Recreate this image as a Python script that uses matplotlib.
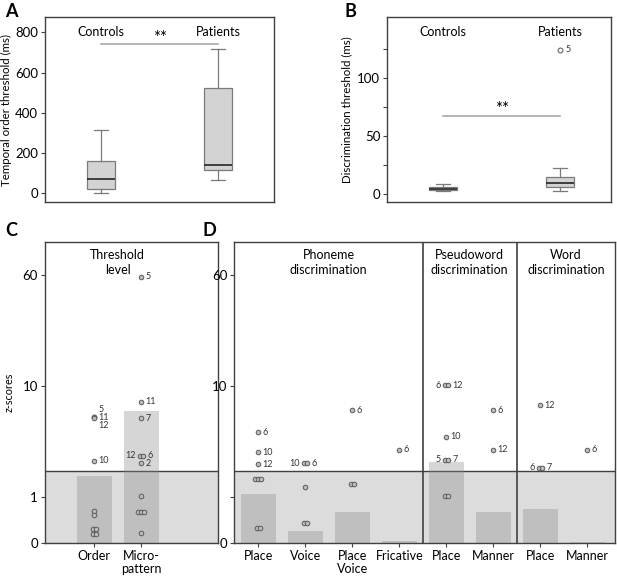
import numpy as np
import matplotlib
matplotlib.use("Agg")
import matplotlib.pyplot as plt

plt.rcParams['font.family'] = ['Lato', 'DejaVu Sans']

# ---------------- data ----------------
groups = ['Controls', 'Patients']
# Panel A: temporal order threshold (ms)
a_low = [0, 65]
a_q1 = [23, 114]
a_med = [70, 139]
a_q3 = [159, 525]
a_high = [315, 716]
# Panel B: discrimination threshold (ms)
b_low = [2.3, 2.3]
b_q1 = [3.0, 6.3]
b_med = [4.5, 9.2]
b_q3 = [6.3, 15.0]
b_high = [8.4, 22.2]
b_outlier_val = 124.5
b_outlier_lab = '5'

# Panel C: threshold level z-scores
c_cats = ['Order', 'Micro-\npattern']
c_means = [1.8, 6.55]
c_order_vals = [5.9, 5.85, 5.8, 2.5, 0.63, 0.52, 0.23, 0.23, 0.14, 0.14]
c_order_labs = ['5', '11', '12', '10', '', '', '', '', '', '']
c_micro_vals = [57.8, 7.7, 5.75, 2.8, 2.8, 2.38, 1.06, 0.61, 0.61, 0.61, 0.156]
c_micro_labs = ['5', '11', '7', '12', '6', '2', '', '', '', '', '']

# Panel D
d_cats = ['Place', 'Voice', 'Place\nVoice', 'Fricative', 'Place', 'Manner', 'Place', 'Manner']
d_means = [1.12, 0.19, 0.60, 0.02, 2.44, 0.60, 0.67, 0.01]
d_place_vals = [4.45, 3.0, 2.33, 1.65, 1.65, 1.65, 0.25, 0.25]
d_place_labs = ['6', '10', '12', '', '', '', '', '']
d_voice_vals = [2.38, 2.38, 1.36, 0.35, 0.35]
d_voice_labs = ['10', '6', '', '', '']
d_pv_vals = [6.6, 1.45, 1.45]
d_pv_labs = ['6', '', '']
d_fric_vals = [3.15]
d_fric_labs = ['6']
d_pwplace_vals = [10.2, 10.2, 4.07, 2.56, 2.56, 1.05, 1.05]
d_pwplace_labs = ['6', '12', '10', '5', '7', '', '']
d_pwmanner_vals = [6.6, 3.17]
d_pwmanner_labs = ['6', '12']
d_wplace_vals = [7.24, 2.16, 2.16]
d_wplace_labs = ['12', '6', '7']
d_wmanner_vals = [3.17]
d_wmanner_labs = ['6']
d_sections = ['Phoneme\ndiscrimination', 'Pseudoword\ndiscrimination', 'Word\ndiscrimination']

threshold = 2.0

# ---------------- styling ----------------
SPINE = '#404040'
BOXFACE = '#d3d3d3'
BOXEDGE = '#7a7a7a'
SIG = '#a8a8a8'

fig = plt.figure(figsize=(6.17, 5.77), dpi=100)

def style_spines(ax):
    for s in ax.spines.values():
        s.set_color(SPINE)
        s.set_linewidth(1.0)

def box_panel(ax, lows, q1s, meds, q3s, highs):
    stats = []
    for i in range(len(groups)):
        stats.append(dict(whislo=lows[i], q1=q1s[i], med=meds[i], q3=q3s[i],
                          whishi=highs[i], fliers=[], label=groups[i]))
    ax.bxp(stats, positions=[1, 2], widths=0.24, capwidths=0.12, patch_artist=True,
           showfliers=False,
           boxprops=dict(facecolor=BOXFACE, edgecolor=BOXEDGE, linewidth=0.9),
           whiskerprops=dict(color=BOXEDGE, linewidth=0.9),
           capprops=dict(color=BOXEDGE, linewidth=0.9),
           medianprops=dict(color='#333333', linewidth=1.3))
    ax.set_xticks([])
    style_spines(ax)
    ax.tick_params(axis='y', labelsize=9.5, length=3, color=SPINE, pad=2)

# Panel A
axA = fig.add_axes([45/617, 1-202.3/577, 229/617, 185/577])
box_panel(axA, a_low, a_q1, a_med, a_q3, a_high)
axA.set_xlim(0.52, 2.476)
axA.set_ylim(-44.7, 874.6)
axA.set_yticks([0, 200, 400, 600, 800])
axA.set_ylabel('Temporal order threshold (ms)', fontsize=8.3, labelpad=2)
for i, g in enumerate(groups):
    axA.text(i + 1, 800, g, ha='center', va='center', fontsize=9)
axA.plot([1, 2], [740, 740], color=SIG, lw=1.2)
axA.text(1.5, 770, '**', ha='center', va='center', fontsize=12)

# Panel B
axB = fig.add_axes([387.3/617, 1-202.3/577, 224/617, 185/577])
box_panel(axB, b_low, b_q1, b_med, b_q3, b_high)
axB.set_xlim(0.52, 2.44)
axB.set_ylim(-7.2, 152.7)
axB.set_yticks([0, 25, 50, 75, 100, 125])
axB.set_yticklabels(['0', '', '50', '', '100', ''])
axB.set_ylabel('Discrimination threshold (ms)', fontsize=8.3, labelpad=4)
for i, g in enumerate(groups):
    axB.text(i + 1, 139.7, g, ha='center', va='center', fontsize=9)
axB.plot([1, 2], [67.4, 67.4], color=SIG, lw=1.2)
axB.text(1.5, 73.5, '**', ha='center', va='center', fontsize=12)
axB.plot([2], [b_outlier_val], marker='o', ms=3.5, mfc='white', mec='#555555', mew=0.7, ls='none')
axB.annotate(b_outlier_lab, (2, b_outlier_val), xytext=(4, 0), textcoords='offset points',
             fontsize=6.5, va='center', ha='left', color='#333333')

# z-score panels
fwd = lambda y: np.log10(1 + np.clip(y, 0, None))
inv = lambda y: 10 ** y - 1

def z_axes(rect):
    ax = fig.add_axes(rect)
    ax.set_yscale('function', functions=(fwd, inv))
    ax.set_ylim(0, 100)
    ax.axhspan(0, threshold, color='#dcdcdc', zorder=0, lw=0)
    ax.axhline(threshold, color=SPINE, lw=1.0, zorder=1)
    style_spines(ax)
    ax.set_yticks([0, 1, 10, 60])
    ax.yaxis.set_minor_locator(matplotlib.ticker.NullLocator())
    ax.tick_params(axis='y', labelsize=9.5, length=3, color=SPINE, pad=2)
    ax.tick_params(axis='x', labelsize=9, length=3, color=SPINE, pad=2)
    return ax

def draw_points(ax, x, vals, labs, special_dy=None):
    vals = list(vals)
    used = [False] * len(vals)
    for i, v in enumerate(vals):
        if used[i]:
            continue
        idx = [j for j in range(len(vals)) if vals[j] == v]
        for j in idx:
            used[j] = True
        k = len(idx)
        sp = 0.075 if k == 2 else 0.06
        offs = [(m - (k - 1) / 2) * sp for m in range(k)]
        for m, j in enumerate(idx):
            ax.plot([x + offs[m]], [v], marker='o', ms=3.3, mfc='#bdbdbd', mec='#5a5a5a',
                    mew=0.7, ls='none', zorder=4)
            lab = labs[j]
            if not lab:
                continue
            dy = 0
            if special_dy and lab in special_dy:
                dy = special_dy[lab]
            if k >= 2 and m == 0:
                ax.annotate(lab, (x + offs[m], v), xytext=(-3, dy), textcoords='offset points',
                            fontsize=6.5, ha='right', va='center', color='#333333', zorder=5)
            else:
                ax.annotate(lab, (x + offs[m], v), xytext=(3, dy), textcoords='offset points',
                            fontsize=6.5, ha='left', va='center', color='#333333', zorder=5)

# Panel C
axC = z_axes([45/617, 1-542.7/577, 173.3/617, 301/577])
axC.set_xlim(-1.05, 2.64)
xc = np.arange(len(c_cats))
axC.bar(xc, c_means, width=0.75, color='#8a8a8a', alpha=0.35, zorder=2, lw=0)
axC.set_xticks(xc)
axC.set_xticklabels(c_cats, linespacing=1.15)
axC.set_yticklabels(['0', '1', '10', '60'])
axC.set_ylabel('z-scores', fontsize=7.8, labelpad=6)
draw_points(axC, 0, c_order_vals, c_order_labs, special_dy={'5': 5.5, '12': -5.5})
draw_points(axC, 1, c_micro_vals, c_micro_labs)
axC.text(0.5, 0.975, 'Threshold\nlevel', transform=matplotlib.transforms.blended_transform_factory(axC.transData, axC.transAxes),
         ha='center', va='top', fontsize=9, linespacing=1.25)

# Panel D
axD = z_axes([234.3/617, 1-542.7/577, 380.7/617, 301/577])
axD.set_xlim(-0.51, 7.59)
xd = np.arange(len(d_cats))
axD.bar(xd, d_means, width=0.75, color='#8a8a8a', alpha=0.35, zorder=2, lw=0)
axD.set_xticks(xd)
axD.set_xticklabels(d_cats, linespacing=1.15)
axD.set_yticklabels(['0', '', '10', '60'])
d_vals = [d_place_vals, d_voice_vals, d_pv_vals, d_fric_vals,
          d_pwplace_vals, d_pwmanner_vals, d_wplace_vals, d_wmanner_vals]
d_labs = [d_place_labs, d_voice_labs, d_pv_labs, d_fric_labs,
          d_pwplace_labs, d_pwmanner_labs, d_wplace_labs, d_wmanner_labs]
for i in range(len(d_cats)):
    draw_points(axD, xd[i], d_vals[i], d_labs[i])
for xv in [3.5, 5.5]:
    axD.axvline(xv, color=SPINE, lw=1.2, zorder=3)
bt = matplotlib.transforms.blended_transform_factory(axD.transData, axD.transAxes)
sec_bounds = [(-0.51, 3.5), (3.5, 5.5), (5.5, 7.59)]
for (a, b), t in zip(sec_bounds, d_sections):
    axD.text((a + b) / 2, 0.975, t, transform=bt, ha='center', va='top', fontsize=9, linespacing=1.25)

# panel letters
for lab, x, y in [('A', 5, 3), ('B', 345, 3), ('C', 5, 222), ('D', 203, 222)]:
    fig.text(x / 617, 1 - y / 577, lab, fontsize=13, fontweight='bold', va='top', ha='left')

fig.savefig('out.png', dpi=100)
